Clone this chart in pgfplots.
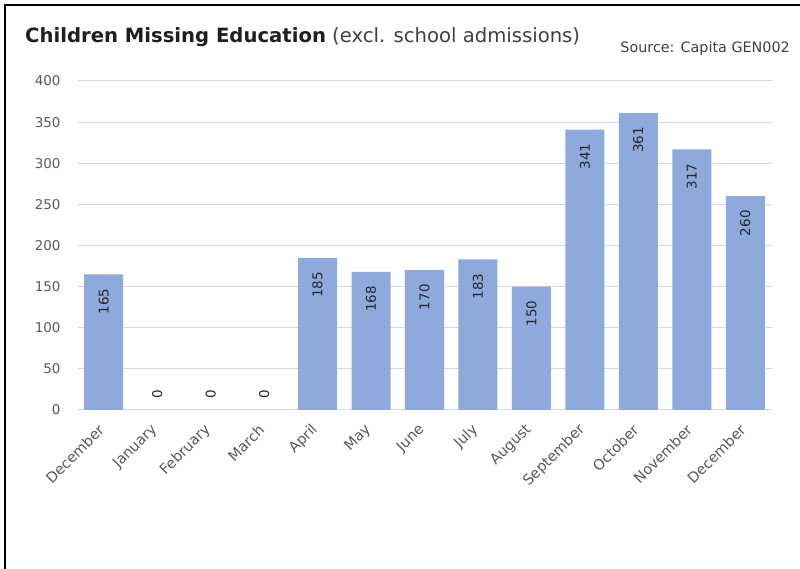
\documentclass[border=0pt]{standalone}
\usepackage{pgfplots}
\pgfplotsset{compat=1.18}
\usepackage{fontspec}
\setmainfont{DejaVu Sans}
\definecolor{barblue}{RGB}{142,169,219}
\definecolor{gridgray}{RGB}{217,217,217}
\definecolor{ticktext}{RGB}{89,89,89}
\definecolor{labeltext}{RGB}{64,64,64}
\definecolor{valuetext}{RGB}{38,38,38}
\definecolor{titletext}{RGB}{30,30,36}
\begin{document}
\begin{tikzpicture}
\useasboundingbox (0,0) rectangle (800bp,569bp);
\fill[white] (0,0) rectangle (800bp,569bp);
% frame
\draw[black, line width=2bp] (5bp,0) -- (5bp,564bp) -- (800bp,564bp);
% titles
\node[anchor=base west, inner sep=0pt, text=titletext] at (25bp,526bp)
  {\fontsize{19.7}{24}\selectfont\textbf{Children Missing Education} {\color{labeltext}(excl. school admissions)}};
\node[anchor=base east, inner sep=0pt, text=labeltext] at (790bp,516bp)
  {\fontsize{14.4}{16}\selectfont Source: Capita GEN002};
\begin{axis}[
  at={(77bp,159bp)}, anchor=south west,
  width=695bp, height=329bp, scale only axis,
  xmin=-0.5, xmax=12.5, ymin=0, ymax=400,
  clip=false,
  axis x line*=bottom, axis y line*=left,
  y axis line style={draw=none},
  x axis line style={draw=gridgray, line width=1bp},
  ytick={0,50,...,400},
  ymajorgrids, grid style={gridgray, line width=1bp},
  ytick style={draw=none},
  yticklabel shift=13bp,
  xtick={0,...,12},
  xticklabels={December,January,February,March,April,May,June,July,August,September,October,November,December},
  xtick style={draw=none},
  xticklabel shift=15bp,
  extra x ticks={-0.5,0.5,...,12.5},
  extra x tick labels={},
  extra x tick style={tick align=outside, major tick length=5bp,
    tick style={draw=gridgray, line width=1bp}},
  /pgf/number format/assume math mode=true,
  y tick label style={font=\fontsize{13.5}{15}\selectfont, text=ticktext},
  x tick label style={font=\fontsize{14.5}{16}\selectfont, text=ticktext, rotate=45, anchor=east},
]
% monthly counts
\addplot[ybar, bar width=0.73, fill=barblue, draw=none,
  nodes near coords,
  every node near coord/.append style={rotate=90, anchor=east, inner xsep=14bp,
    font=\fontsize{13.5}{15}\selectfont, text=valuetext}]
  coordinates {(0,165) (4,185) (5,168) (6,170) (7,183) (8,150) (9,341) (10,361) (11,317) (12,260)};
% months with no cases
\addplot[draw=none, mark=none,
  nodes near coords,
  every node near coord/.append style={rotate=90, anchor=west, inner xsep=11bp,
    font=\fontsize{13.5}{15}\selectfont, text=valuetext}]
  coordinates {(1,0) (2,0) (3,0)};
\end{axis}
\end{tikzpicture}
\end{document}
